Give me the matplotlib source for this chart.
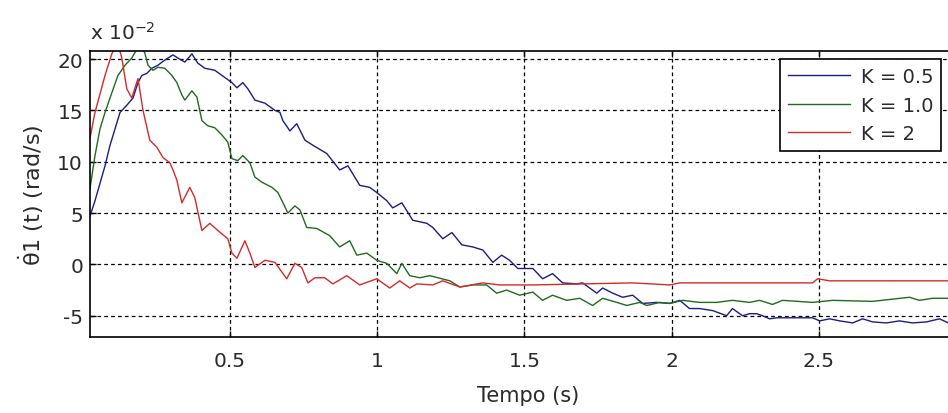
import matplotlib
matplotlib.use("Agg")
import matplotlib.pyplot as plt
from matplotlib.ticker import FuncFormatter

plt.rcParams['font.family'] = ['DejaVu Sans']
plt.rcParams['axes.unicode_minus'] = False

# velocity traces (y in units of 1e-2 rad/s)
t_k05 = [0.025, 0.042, 0.059, 0.076, 0.093, 0.110, 0.127, 0.150, 0.171, 0.188,
         0.201, 0.218, 0.235, 0.256, 0.279, 0.307, 0.323, 0.347, 0.371, 0.391,
         0.415, 0.449, 0.483, 0.507, 0.524, 0.544, 0.561, 0.585, 0.619, 0.653,
         0.670, 0.680, 0.704, 0.727, 0.755, 0.782, 0.829, 0.873, 0.901, 0.941,
         0.975, 0.999, 1.033, 1.053, 1.084, 1.121, 1.169, 1.189, 1.223, 1.254,
         1.288, 1.325, 1.359, 1.393, 1.423, 1.450, 1.478, 1.508, 1.529, 1.562,
         1.596, 1.630, 1.678, 1.698, 1.746, 1.766, 1.800, 1.834, 1.868, 1.902,
         1.949, 1.994, 2.028, 2.061, 2.095, 2.140, 2.187, 2.207, 2.241, 2.265,
         2.289, 2.309, 2.333, 2.357, 2.411, 2.445, 2.479, 2.503, 2.537, 2.571,
         2.615, 2.649, 2.683, 2.730, 2.774, 2.818, 2.866, 2.910, 2.940]
v_k05 = [4.7, 6.2, 7.9, 9.6, 11.6, 13.2, 14.8, 15.5, 16.2, 17.7,
         18.4, 18.6, 19.1, 19.4, 19.9, 20.4, 20.1, 19.7, 20.5, 19.6,
         19.1, 18.9, 18.2, 17.7, 17.2, 17.7, 17.1, 16.0, 15.7, 15.0,
         14.8, 14.0, 13.0, 13.7, 12.1, 11.6, 10.8, 9.2, 9.6, 7.7,
         7.5, 7.0, 6.2, 5.5, 6.0, 4.3, 4.0, 3.6, 2.5, 3.1,
         1.9, 1.7, 1.4, 0.2, 0.9, 0.4, -0.4, -0.4, -0.4, -1.4,
         -0.9, -1.8, -1.9, -1.8, -2.8, -2.3, -2.8, -3.2, -3.0, -3.8,
         -3.7, -3.8, -3.5, -4.3, -4.3, -4.5, -5.0, -4.3, -5.0, -4.8,
         -4.8, -5.0, -5.3, -5.2, -5.2, -5.2, -5.2, -5.5, -5.3, -5.5,
         -5.7, -5.3, -5.6, -5.7, -5.5, -5.7, -5.6, -5.3, -5.7]

t_k10 = [0.025, 0.042, 0.059, 0.076, 0.099, 0.120, 0.144, 0.167, 0.195, 0.211,
         0.222, 0.239, 0.256, 0.279, 0.303, 0.320, 0.337, 0.347, 0.371, 0.388,
         0.405, 0.425, 0.449, 0.473, 0.493, 0.507, 0.527, 0.544, 0.568, 0.585,
         0.609, 0.643, 0.663, 0.677, 0.697, 0.721, 0.738, 0.761, 0.795, 0.839,
         0.873, 0.907, 0.931, 0.965, 0.999, 1.033, 1.067, 1.084, 1.111, 1.145,
         1.179, 1.247, 1.281, 1.325, 1.372, 1.406, 1.440, 1.484, 1.529, 1.562,
         1.596, 1.644, 1.688, 1.732, 1.766, 1.814, 1.848, 1.892, 1.916, 1.960,
         1.994, 2.038, 2.095, 2.153, 2.207, 2.265, 2.299, 2.343, 2.377, 2.479,
         2.547, 2.683, 2.808, 2.842, 2.886, 2.940]
v_k10 = [7.4, 10.6, 13.2, 14.8, 16.7, 18.4, 19.4, 20.1, 21.5, 20.6,
         19.4, 18.9, 19.2, 19.1, 18.4, 17.7, 16.5, 16.0, 16.9, 16.3,
         14.0, 13.5, 13.3, 12.6, 11.9, 10.3, 10.1, 10.6, 9.9, 8.5,
         8.0, 7.5, 7.0, 6.2, 5.0, 5.7, 5.3, 3.6, 3.5, 2.8,
         1.7, 2.3, 0.9, 1.1, 0.4, 0.1, -0.9, 0.1, -1.1, -1.3,
         -1.1, -1.6, -2.2, -2.0, -2.0, -2.8, -2.5, -3.0, -2.7, -3.5,
         -3.0, -3.5, -3.3, -4.0, -3.3, -3.7, -4.0, -3.7, -4.0, -3.7,
         -3.8, -3.5, -3.7, -3.7, -3.5, -3.7, -3.5, -3.9, -3.5, -3.7,
         -3.5, -3.6, -3.2, -3.5, -3.3, -3.3]

t_k2 = [0.025, 0.042, 0.076, 0.099, 0.120, 0.133, 0.150, 0.167, 0.188, 0.205,
        0.228, 0.252, 0.273, 0.296, 0.307, 0.320, 0.337, 0.364, 0.381, 0.405,
        0.432, 0.459, 0.493, 0.507, 0.524, 0.551, 0.568, 0.585, 0.619, 0.653,
        0.693, 0.721, 0.744, 0.765, 0.789, 0.822, 0.850, 0.897, 0.941, 0.999,
        1.043, 1.077, 1.111, 1.135, 1.189, 1.223, 1.281, 1.359, 1.417, 1.529,
        1.698, 1.868, 1.994, 2.028, 2.265, 2.479, 2.496, 2.537, 2.940]
v_k2 = [12.3, 14.8, 18.4, 20.5, 21.5, 20.1, 17.1, 16.2, 18.1, 15.0,
        12.1, 11.4, 10.4, 9.9, 9.2, 8.2, 6.0, 7.5, 6.5, 3.3,
        4.0, 3.3, 2.5, 1.1, 0.6, 2.3, 1.1, -0.3, 0.4, 0.2,
        -1.4, 0.1, -0.3, -1.8, -1.3, -1.3, -1.9, -1.1, -2.0, -1.4,
        -2.3, -1.6, -2.3, -1.9, -2.0, -1.6, -2.2, -1.8, -2.0, -2.0,
        -1.9, -1.8, -2.0, -1.8, -1.8, -1.8, -1.4, -1.6, -1.6]

series = [(t_k05, v_k05, 'K = 0.5', '#1c1c86'),
          (t_k10, v_k10, 'K = 1.0', '#1f6b1f'),
          (t_k2, v_k2, 'K = 2', '#d42a2a')]

txt = '#2a2a2a'
fig = plt.figure(figsize=(9.48, 4.14), dpi=100)
# axes runs a little past the right edge, like the cropped original
ax = fig.add_axes([90 / 948, 1 - 338 / 414, 876 / 948, 286 / 414])

for t, v, name, col in series:
    ax.plot(t, [y * 0.01 for y in v], color=col, lw=1.0, label=name)

ax.set_xlim(0.025, 3.0)
ax.set_ylim(-0.0707, 0.2078)
ax.set_xticks([0.5, 1, 1.5, 2, 2.5])
ax.set_yticks([-0.05, 0, 0.05, 0.10, 0.15, 0.20])
ax.xaxis.set_major_formatter(FuncFormatter(lambda v, p: f"{v:g}"))
ax.yaxis.set_major_formatter(FuncFormatter(lambda v, p: f"{round(v * 100):d}"))
ax.tick_params(direction='in', length=4, width=1, labelsize=14.5, top=True, right=True,
               colors='black', labelcolor=txt)
ax.tick_params(axis='y', pad=5)
ax.tick_params(axis='x', pad=10)
ax.grid(True, color='black', linestyle=(0, (3, 2.5)), linewidth=0.9)
for s in ax.spines.values():
    s.set_linewidth(1.2)

ax.set_xlabel('Tempo (s)', fontsize=15, color=txt, labelpad=11)
ax.set_ylabel(r'$\dot{\mathrm{\theta}}$1 (t) (rad/s)', fontsize=16, color=txt, labelpad=8)
fig.text(90 / 948, 1 - 40 / 414, r'x 10$^{-2}$', fontsize=14.5, color=txt)

leg = ax.legend(loc='upper right', bbox_to_anchor=(941 / 948, 1 - 60 / 414),
                bbox_transform=fig.transFigure, fontsize=14, frameon=True,
                fancybox=False, framealpha=1, edgecolor='black',
                handlelength=3.2, handletextpad=0.55, labelspacing=0.5,
                borderpad=0.4, borderaxespad=0)
leg.get_frame().set_linewidth(1.2)
for line in leg.get_lines():
    line.set_linewidth(1.0)
for tx in leg.get_texts():
    tx.set_color(txt)

fig.savefig('out.png', dpi=100)
